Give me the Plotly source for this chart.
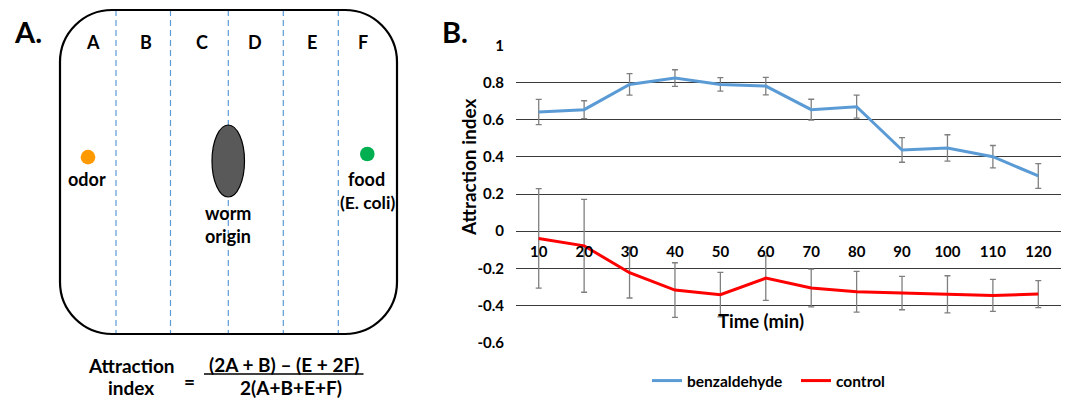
import plotly.graph_objects as go

# ---------------- data (panel B) ----------------
time_min = [10, 20, 30, 40, 50, 60, 70, 80, 90, 100, 110, 120]
benzaldehyde = [0.641, 0.654, 0.790, 0.824, 0.790, 0.781, 0.654, 0.670, 0.437, 0.448, 0.401, 0.297]
benzaldehyde_err = [0.068, 0.048, 0.058, 0.045, 0.036, 0.047, 0.056, 0.062, 0.066, 0.071, 0.060, 0.067]
control = [-0.039, -0.079, -0.224, -0.317, -0.342, -0.253, -0.306, -0.326, -0.333, -0.340, -0.346, -0.339]
control_err = [0.268, 0.250, 0.136, 0.147, 0.120, 0.120, 0.102, 0.110, 0.090, 0.100, 0.086, 0.073]
y_tickvals = [1, 0.8, 0.6, 0.4, 0.2, 0, -0.2, -0.4, -0.6]
y_ticktext = ["1", "0.8", "0.6", "0.4", "0.2", "0", "-0.2", "-0.4", "-0.6"]
x_ticktext = [str(t) for t in time_min]

# ---------------- panel A labels ----------------
zone_labels = ["A", "B", "C", "D", "E", "F"]

W, H = 1070, 400
FONT = "Lato"


def X(px):
    return px / W


def Y(py):
    return 1 - py / H


fig = go.Figure()

fig.add_trace(go.Scatter(
    x=time_min, y=benzaldehyde, name="benzaldehyde", mode="lines",
    line=dict(color="#5B9BD5", width=3),
    error_y=dict(type="data", array=benzaldehyde_err, color="#7f7f7f", thickness=1.3, width=3),
))
fig.add_trace(go.Scatter(
    x=time_min, y=control, name="control", mode="lines",
    line=dict(color="#FF0000", width=3),
    error_y=dict(type="data", array=control_err, color="#7f7f7f", thickness=1.3, width=3),
))

x_dom = [X(516), X(1061)]
y_dom = [Y(342.7), Y(45.3)]

fig.update_layout(
    width=W, height=H,
    margin=dict(l=0, r=0, t=0, b=0, autoexpand=False),
    paper_bgcolor="white", plot_bgcolor="white",
    font=dict(family=FONT, color="black", size=14),
    xaxis=dict(
        domain=x_dom, range=[5, 125], tickvals=time_min, ticktext=x_ticktext,
        anchor="free", position=Y(231), showgrid=False, zeroline=False, showline=False,
        ticks="", ticklabelstandoff=10, automargin=False,
        tickfont=dict(family=FONT, size=15, weight="bold", color="black"),
    ),
    yaxis=dict(
        domain=y_dom, range=[-0.6005, 1.0005], tickvals=y_tickvals, ticktext=y_ticktext,
        showgrid=True, gridcolor="#3a3a3a", gridwidth=1, zeroline=False, showline=False,
        ticks="", ticklabelstandoff=11, automargin=False,
        tickfont=dict(family=FONT, size=15, weight="bold", color="black"),
    ),
    legend=dict(
        orientation="h", x=X(647), xanchor="left", y=Y(381), yanchor="middle",
        font=dict(family=FONT, size=15.5, weight="bold", color="black"),
        bgcolor="rgba(0,0,0,0)", entrywidth=104, entrywidthmode="pixels",
    ),
    showlegend=True,
)

shapes = []
# dashed zone separators
for px in [116, 170.5, 228.3, 283.3, 338.3]:
    shapes.append(dict(type="line", xref="paper", yref="paper",
                       x0=X(px), x1=X(px), y0=Y(10), y1=Y(334),
                       line=dict(color="#5B9BD5", width=1.2, dash="6px,4px")))

# rounded rectangle plate
L, R, T, B, r = 60, 397, 10, 334, 52
k = 0.5523 * r


def P(px, py):
    return f"{X(px):.6f},{Y(py):.6f}"


path = (
    f"M {P(L + r, T)} L {P(R - r, T)} "
    f"C {P(R - r + k, T)} {P(R, T + r - k)} {P(R, T + r)} "
    f"L {P(R, B - r)} "
    f"C {P(R, B - r + k)} {P(R - r + k, B)} {P(R - r, B)} "
    f"L {P(L + r, B)} "
    f"C {P(L + r - k, B)} {P(L, B - r + k)} {P(L, B - r)} "
    f"L {P(L, T + r)} "
    f"C {P(L, T + r - k)} {P(L + r - k, T)} {P(L + r, T)} Z"
)
shapes.append(dict(type="path", xref="paper", yref="paper", path=path,
                   line=dict(color="black", width=2.2)))

# worm origin ellipse
shapes.append(dict(type="circle", xref="paper", yref="paper",
                   x0=X(212), x1=X(244.5), y0=Y(197), y1=Y(125),
                   fillcolor="#595959", line=dict(color="black", width=1.2)))
# odor dot
shapes.append(dict(type="circle", xref="paper", yref="paper",
                   x0=X(80.7), x1=X(95.3), y0=Y(164.5), y1=Y(149.8),
                   fillcolor="#FF9900", line=dict(width=0)))
# food dot
shapes.append(dict(type="circle", xref="paper", yref="paper",
                   x0=X(360), x1=X(374.6), y0=Y(161.3), y1=Y(146.7),
                   fillcolor="#00B050", line=dict(width=0)))
# fraction bar
shapes.append(dict(type="line", xref="paper", yref="paper",
                   x0=X(204), x1=X(363.5), y0=Y(374), y1=Y(374),
                   line=dict(color="black", width=1.6)))
fig.update_layout(shapes=shapes)


def txt(s, px, py, size, anchor="center"):
    fig.add_annotation(text=s, x=X(px), y=Y(py), xref="paper", yref="paper",
                       xanchor=anchor, yanchor="middle", showarrow=False, borderpad=0,
                       font=dict(family=FONT, size=size, weight="bold", color="black"))


txt("A.", 28, 31, 29)
txt("B.", 455, 32, 29)
for lab, px in zip(zone_labels, [93, 146, 202, 255, 312, 362.7]):
    txt(lab, px, 42, 18)
txt("odor", 87, 179, 18)
txt("food", 366.7, 179, 18)
txt("(E. coli)", 367, 202, 17.5)
txt("worm", 228, 213, 18)
txt("origin", 228, 236, 18)
txt("Attraction", 131, 365, 19)
txt("index", 131, 387, 19)
txt("=", 189, 381, 19)
txt("(2A + B) – (E + 2F)", 284, 364, 19)
txt("2(A+B+E+F)", 291, 387, 19)

# axis titles
fig.add_annotation(text="Attraction index", x=X(468), y=Y(167), xref="paper", yref="paper",
                   textangle=-90, showarrow=False, xanchor="center", yanchor="middle",
                   font=dict(family=FONT, size=19, weight="bold", color="black"))
fig.add_annotation(text="Time (min)", x=X(760.5), y=Y(321), xref="paper", yref="paper",
                   showarrow=False, xanchor="center", yanchor="middle",
                   font=dict(family=FONT, size=18.5, weight="bold", color="black"))

fig.write_html(
    "out.html",
    config={"displayModeBar": False},
    post_script="document.body.style.margin='0';document.body.style.overflow='hidden';",
)
